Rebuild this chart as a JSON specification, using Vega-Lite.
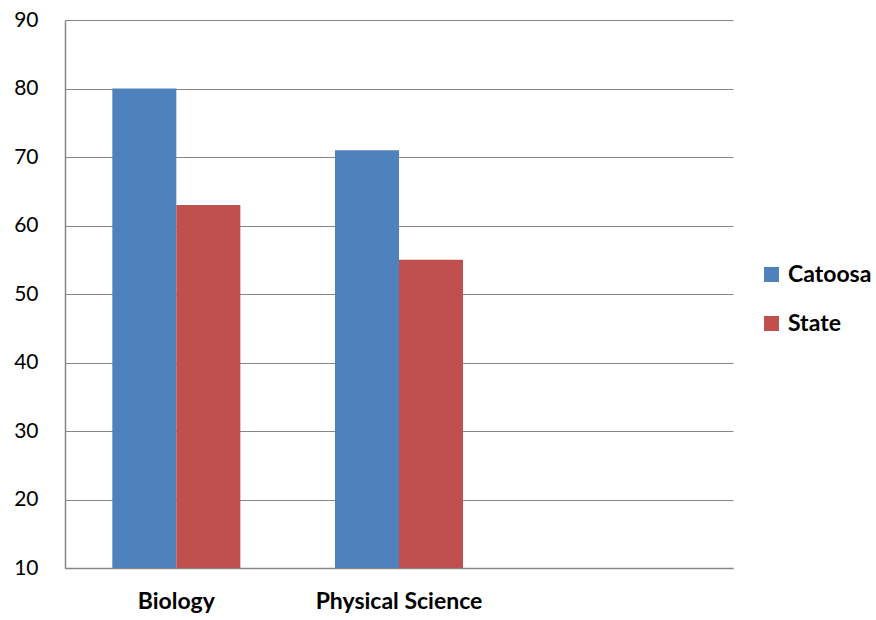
{
  "$schema": "https://vega.github.io/schema/vega-lite/v6.json",
  "autosize": {"type": "none"},
  "width": 668,
  "height": 548,
  "padding": {"left": 65, "top": 20, "right": 143, "bottom": 52},
  "background": "white",
  "config": {
    "view": {"stroke": null},
    "font": "Lato"
  },
  "data": {
    "values": [
      {"subject": "Biology", "series": "Catoosa", "value": 80},
      {"subject": "Biology", "series": "State", "value": 63},
      {"subject": "Physical Science", "series": "Catoosa", "value": 71},
      {"subject": "Physical Science", "series": "State", "value": 55}
    ]
  },
  "mark": {"type": "bar", "clip": true},
  "encoding": {
    "x": {
      "field": "subject",
      "type": "nominal",
      "scale": {"domain": ["Biology", "Physical Science", "_blank"], "paddingInner": 0.425, "paddingOuter": 0.2125},
      "axis": {
        "title": null,
        "labelAngle": 0,
        "labelExpr": "datum.value == '_blank' ? '' : datum.value",
        "labelFont": "Lato",
        "labelFontSize": 23,
        "labelFontWeight": "bold",
        "labelColor": "black",
        "labelPadding": 22,
        "ticks": false,
        "domainColor": "#868686",
        "domainWidth": 1.5
      }
    },
    "xOffset": {"field": "series", "type": "nominal", "scale": {"paddingInner": 0, "paddingOuter": 0}},
    "y": {
      "field": "value",
      "type": "quantitative",
      "scale": {"domain": [10, 90], "zero": false, "nice": false},
      "axis": {
        "title": null,
        "values": [10, 20, 30, 40, 50, 60, 70, 80, 90],
        "labelFont": "Lato",
        "labelFontSize": 21,
        "labelColor": "black",
        "labelPadding": 27,
        "ticks": false,
        "grid": true,
        "gridColor": "#868686",
        "gridWidth": 1.2,
        "domainColor": "#868686",
        "domainWidth": 1.5
      }
    },
    "color": {
      "field": "series",
      "type": "nominal",
      "scale": {"domain": ["Catoosa", "State"], "range": ["#4F81BD", "#C0504D"]},
      "legend": {
        "title": null,
        "orient": "none",
        "legendX": 695,
        "legendY": 243,
        "symbolType": "square",
        "symbolSize": 225,
        "symbolStrokeWidth": 0,
        "labelFont": "Lato",
        "labelFontSize": 23,
        "labelFontWeight": "bold",
        "labelColor": "black",
        "labelOffset": 5,
        "rowPadding": 25
      }
    }
  }
}
